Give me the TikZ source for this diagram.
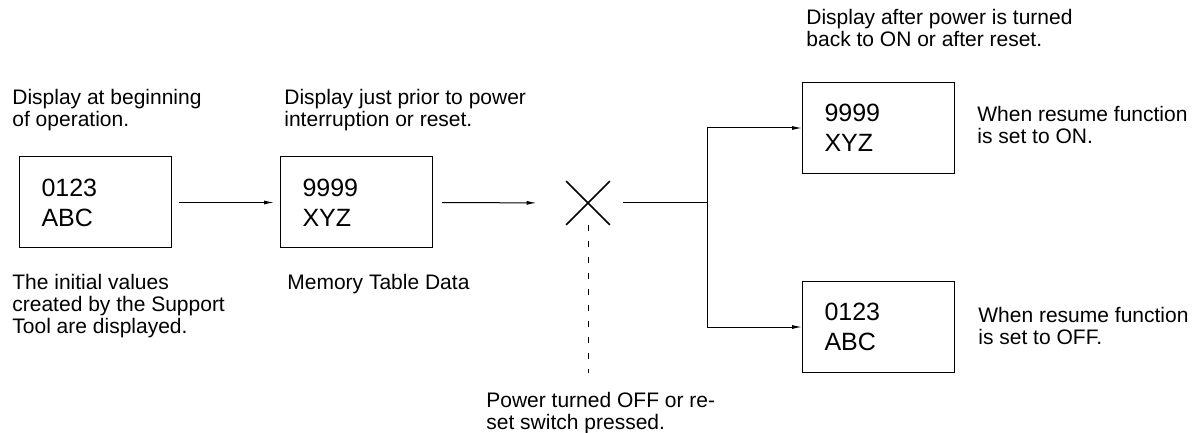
\documentclass[tikz,border=0pt]{standalone}
\usepackage{fontspec}
\setmainfont{Liberation Sans}
\usetikzlibrary{arrows.meta}

\begin{document}
\begin{tikzpicture}[
    x=0.5pt, y=-0.5pt,
    disp/.style={draw, line width=0.5pt, minimum width=76pt, minimum height=45.5pt,
                 inner sep=0pt, text width=54pt, align=left,
                 font=\fontsize{12.5}{15}\selectfont},
    note/.style={anchor=base west, inner sep=0pt, align=left,
                 font=\fontsize{10.5}{11}\selectfont},
    cut/.style={minimum size=21.5pt, inner sep=0pt},
    arr/.style={-{Latex[length=5pt, width=2pt]}, line width=0.5pt}
]
\useasboundingbox (0,0) rectangle (1201,433);

%% -- Displays --------------------------------------------------------
\node[disp] (start) at (95.5,202.5) {0123\\ABC};
\node[disp] (mem)   at (356.5,202.5) {9999\\XYZ};
\node[disp] (on)    at (878.5,128) {9999\\XYZ};
\node[disp] (off)   at (878.5,327) {0123\\ABC};

%% -- Power cut -------------------------------------------------------
\node[cut] (x) at (588,203) {};
\draw[line width=0.8pt] (x.north west) -- (x.south east);
\draw[line width=0.8pt] (x.north east) -- (x.south west);
\coordinate (split) at (707,203);
\coordinate (xnote) at (588,373);

%% -- Texts (placed at the baseline of their last line) ---------------
\node[note] (t1) at (12,127)  {Display at beginning\\of operation.};
\node[note] (t2) at (12,334)  {The initial values\\created by the Support\\Tool are displayed.};
\node[note] (t3) at (284,127) {Display just prior to power\\interruption or reset.};
\node[note] (t4) at (287,290) {Memory Table Data};
\node[note] (t5) at (486,429) {Power turned OFF or re-\\set switch pressed.};
\node[note] (t6) at (806,47)  {Display after power is turned\\back to ON or after reset.};
\node[note] (t7) at (977,144) {When resume function\\is set to ON.};
\node[note] (t8) at (978,344) {When resume function\\is set to OFF.};

%% -- Connectors ------------------------------------------------------
\draw[arr, shorten <=3.5pt, shorten >=3pt] (start.east) -- (mem.west);
\draw[arr, shorten <=4.5pt, shorten >=14.75pt] (mem.east) -- (x.west);
\draw[line width=0.5pt, shorten <=6.75pt] (x.east) -- (split);
\draw[arr] (split) |- (on.west);
\draw[arr] (split) |- (off.west);
\draw[line width=0.5pt, dash pattern=on 3pt off 5pt] (x.south) -- (xnote);
\end{tikzpicture}
\end{document}
